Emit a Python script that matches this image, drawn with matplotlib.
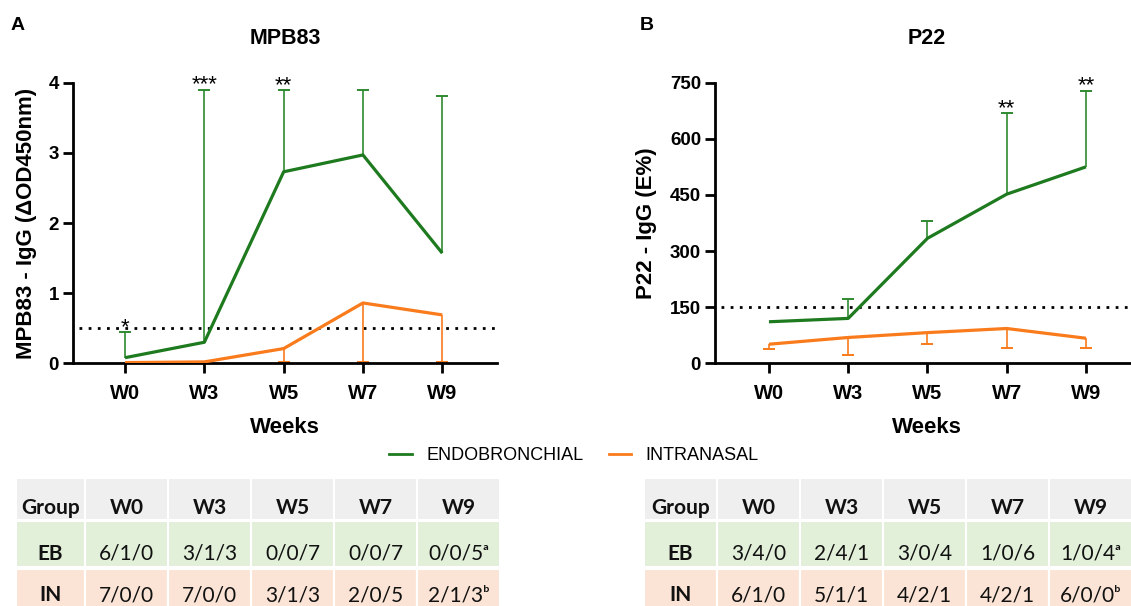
import matplotlib
matplotlib.use('Agg')
import matplotlib.pyplot as plt
from matplotlib.patches import Rectangle
from matplotlib.lines import Line2D

# ---------------- data ----------------
weeks = ['W0', 'W3', 'W5', 'W7', 'W9']

mpb_eb = [0.08, 0.30, 2.73, 2.97, 1.57]
mpb_eb_upper = [0.44, 3.90, 3.89, 3.90, 3.81]
mpb_in = [0.01, 0.02, 0.21, 0.86, 0.69]
mpb_in_lower = [None, None, 0.02, 0.02, 0.02]
mpb_cutoff = 0.5
mpb_stars = ['*', '***', '**', '', '']
mpb_yticks = [0, 1, 2, 3, 4]

p22_eb = [111, 120, 334, 452, 525]
p22_eb_upper = [None, 173, 380, 668, 728]
p22_in = [51, 69, 82, 93, 67]
p22_in_lower = [37, 22, 51, 42, 42]
p22_cutoff = 150
p22_stars = ['', '', '', '**', '**']
p22_yticks = [0, 150, 300, 450, 600, 750]

table_header = ['Group'] + weeks
groups = ['EB', 'IN']
mpb_table = {'EB': ['6/1/0', '3/1/3', '0/0/7', '0/0/7', '0/0/5\u1d43'],
             'IN': ['7/0/0', '7/0/0', '3/1/3', '2/0/5', '2/1/3\u1d47']}
p22_table = {'EB': ['3/4/0', '2/4/1', '3/0/4', '1/0/6', '1/0/4\u1d43'],
             'IN': ['6/1/0', '5/1/1', '4/2/1', '4/2/1', '6/0/0\u1d47']}

# ---------------- style ----------------
GREEN = '#1e7a1e'
GREEN_ERR = '#2f8a2f'
ORANGE = '#f97b1c'
W, H = 1131, 606
ARIAL = 'Liberation Sans'
TFONT = ['Lato', 'DejaVu Sans']

fig = plt.figure(figsize=(W / 100, H / 100), dpi=100)


def fx(px):
    return px / W


def fy(py):
    return 1 - py / H


def panel(left_px, xlim, yvals_eb, up_eb, yvals_in, low_in, cutoff, stars,
          yticks, ylabel, title, letter, letter_px, ylab_frac):
    ax = fig.add_axes([fx(left_px), fy(363.3), 424 / W, (363.3 - 82.7) / H])
    x = list(range(len(weeks)))
    # green upper error bars
    for xi, yv, up in zip(x, yvals_eb, up_eb):
        if up is not None:
            ax.vlines(xi, yv, up, color=GREEN_ERR, lw=1.2, zorder=2)
            ax.plot([xi], [up], marker='_', ms=9, mew=1.4, color=GREEN_ERR, zorder=2)
    # orange lower error bars
    for xi, yv, lo in zip(x, yvals_in, low_in):
        if lo is not None:
            ax.vlines(xi, lo, yv, color=ORANGE, lw=1.2, zorder=2)
            ax.plot([xi], [lo], marker='_', ms=9, mew=1.4, color=ORANGE, zorder=2)
    ax.plot(x, yvals_eb, color=GREEN, lw=2.3, zorder=3, solid_capstyle='butt')
    ax.plot(x, yvals_in, color=ORANGE, lw=2.3, zorder=3, solid_capstyle='butt')
    ax.axhline(cutoff, xmin=0.015, color='black', lw=2.0,
               linestyle=(0, (1, 2.3)), dash_capstyle='butt', zorder=1)
    for xi, yv, up, s in zip(x, yvals_eb, up_eb, stars):
        if s:
            top = up if up is not None else yv
            ax.annotate(s, xy=(xi, top), xytext=(0, -4), textcoords='offset points',
                        ha='center', va='bottom', fontsize=16, family=ARIAL,
                        annotation_clip=False)
    ax.set_xlim(*xlim)
    ax.set_ylim(yticks[0], yticks[-1])
    ax.set_xticks(x)
    ax.set_xticklabels(weeks)
    ax.set_yticks(yticks)
    ax.set_yticklabels([str(t) for t in yticks])
    for sp in ['top', 'right']:
        ax.spines[sp].set_visible(False)
    for sp in ['left', 'bottom']:
        ax.spines[sp].set_linewidth(2.0)
    ax.tick_params(axis='both', direction='out', length=7, width=2.0, pad=3)
    ax.tick_params(axis='x', pad=8, labelsize=14.5)
    ax.tick_params(axis='y', labelsize=13.5)
    for lab in ax.get_xticklabels() + ax.get_yticklabels():
        lab.set_fontweight('bold')
        lab.set_family(ARIAL)
    ax.set_xlabel('Weeks', fontsize=16, fontweight='bold', family=ARIAL, labelpad=10)
    ax.set_ylabel(ylabel, fontsize=16, fontweight='bold', family=ARIAL)
    ax.yaxis.set_label_coords(ylab_frac, 0.5)
    fig.text(fx(left_px + 212), fy(38), title, ha='center', va='center',
             fontsize=15.5, fontweight='bold', family=ARIAL)
    fig.text(fx(letter_px), fy(26), letter, ha='left', va='center',
             fontsize=14, fontweight='bold', family=ARIAL)
    return ax


panel(73, (-0.656, 4.69), mpb_eb, mpb_eb_upper, mpb_in, mpb_in_lower, mpb_cutoff,
      mpb_stars, mpb_yticks, 'MPB83 - IgG (\u0394OD450nm)', 'MPB83', 'A', 11, -0.085)
panel(715, (-0.681, 4.67), p22_eb, p22_eb_upper, p22_in, p22_in_lower, p22_cutoff,
      p22_stars, p22_yticks, 'P22 - IgG (E%)', 'P22', 'B', 640, -0.137)

# legend
handles = [Line2D([0], [0], color=GREEN, lw=2), Line2D([0], [0], color=ORANGE, lw=2)]
fig.legend(handles, ['ENDOBRONCHIAL', 'INTRANASAL'], loc='center',
           bbox_to_anchor=(fx(574), fy(456)), ncol=2, frameon=False,
           prop={'family': ARIAL, 'size': 13}, handlelength=1.25,
           handletextpad=0.8, columnspacing=1.4)

# tables
row_tops = [478, 521, 569]
row_heights = [42, 46, 46]
row_baselines = [514, 560, 601]
row_colors = ['#efefef', '#e2efd9', '#fbe4d5']


def draw_table(x0, widths, data):
    rows = [table_header] + [[g] + data[g] for g in groups]
    for r, row in enumerate(rows):
        xc = x0
        for c, (txt, wpx) in enumerate(zip(row, widths)):
            fig.patches.append(Rectangle((fx(xc), fy(row_tops[r] + row_heights[r])),
                                         wpx / W, row_heights[r] / H,
                                         transform=fig.transFigure,
                                         facecolor=row_colors[r], edgecolor='white',
                                         lw=1.5))
            bold = (r == 0) or (c == 0)
            fig.text(fx(xc + wpx / 2), fy(row_baselines[r]), txt, ha='center',
                     va='baseline', fontsize=15,
                     fontweight='bold' if bold else 'normal',
                     family=TFONT, color='#111111')
            xc += wpx


draw_table(16, [69, 83, 83, 83, 83, 83], mpb_table)
draw_table(644, [73, 83, 83, 83, 83, 83], p22_table)

fig.savefig('out.png', dpi=100)
